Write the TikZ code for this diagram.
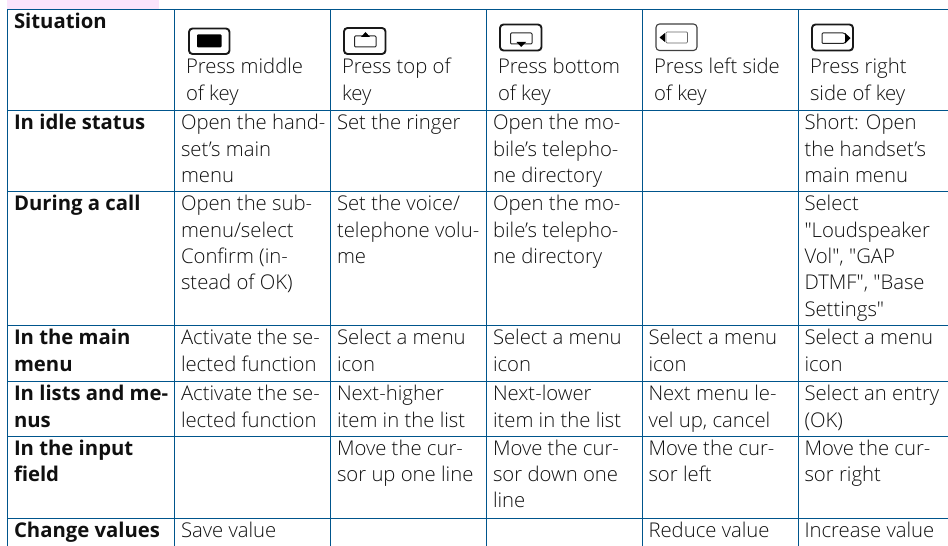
\documentclass[tikz,border=0pt]{standalone}
\usepackage{fontspec}
\setmainfont{Open Sans}[UprightFont={* Light},BoldFont={* Bold},Ligatures=TeXOff]
\definecolor{rule}{HTML}{00558C}
\definecolor{ink}{HTML}{101010}
\definecolor{pinkband}{HTML}{FBE4FB}
\newcommand{\celllines}[1]{\vtop{\baselineskip=26.3bp\lineskiplimit=-100pt\lineskip=0pt\let\\\cr\halign{##\hfil\cr#1\crcr}}}
\tikzset{
  x=1bp,y=-1bp,
  gridline/.style={draw=rule,line width=0.9bp},
  cellbody/.style={anchor=base west,inner sep=0pt,outer sep=0pt,text=ink,font=\fontsize{20.3bp}{26.3bp}\selectfont},
  cellhead/.style={cellbody,font=\fontsize{20.3bp}{26.3bp}\selectfont\bfseries},
  keyframe/.style={draw=black!90,line width=1.9bp,rounded corners=3.5bp,fill=white},
  keyframethin/.style={draw=black!75,line width=1.1bp,rounded corners=3.5bp,fill=white},
  keyinner/.style={draw=black!85,line width=1bp,rounded corners=1bp},
}
\newcommand{\bcell}[4]{\node[cellbody] (#1) at (#2,#3) {\celllines{#4}};}
\newcommand{\hcell}[3]{\node[cellhead] (#1) at (14,#2) {\celllines{#3}};}
\begin{document}
\begin{tikzpicture}
\useasboundingbox (0,0) rectangle (948,546);
\fill[pinkband] (7,0) rectangle (159,8.6);
% grid
\foreach \yy in {9.5,110.5,191,325,381,436,518}{\draw[gridline] (7,\yy) -- (948,\yy);}
\foreach \xx in {7.5,174.5,330.5,486.5,642.5,798.5}{\draw[gridline] (\xx,9.5) -- (\xx,546);}
% first column
\hcell{h0}{29}{Situation}
\hcell{h1}{130}{In idle status}
\hcell{h2}{211}{During a call}
\hcell{h3}{345}{In the main\\menu}
\hcell{h4}{400.7}{In lists and me-\\nus}
\hcell{h5}{455}{In the input\\field}
\hcell{h6}{537.7}{Change values}
% header
\bcell{t1}{186}{74}{Press middle\\of key}
\bcell{t2}{342}{74}{Press top of\\key}
\bcell{t3}{498}{74}{Press bottom\\of key}
\bcell{t4}{654}{74}{Press left side\\of key}
\bcell{t5}{810}{74}{Press right\\side of key}
% idle
\bcell{a1}{181}{130}{Open the hand-\\set’s main\\menu}
\bcell{a2}{337}{130}{Set the ringer}
\bcell{a3}{493}{130}{Open the mo-\\bile’s telepho-\\ne directory}
\bcell{a5}{804.5}{130}{Short: Open\\the handset’s\\main menu}
% call
\bcell{b1}{181}{211}{Open the sub-\\menu/select\\Confirm (in-\\stead of OK)}
\bcell{b2}{337}{211}{Set the voice/\\telephone volu-\\me}
\bcell{b3}{493}{211}{Open the mo-\\bile’s telepho-\\ne directory}
\bcell{b5}{804.5}{211}{Select\\"Loudspeaker\\Vol", "GAP\\DTMF", "Base\\Settings"}
% main menu
\bcell{c1}{181}{345}{Activate the se-\\lected function}
\bcell{c2}{337}{345}{Select a menu\\icon}
\bcell{c3}{493}{345}{Select a menu\\icon}
\bcell{c4}{648.5}{345}{Select a menu\\icon}
\bcell{c5}{804.5}{345}{Select a menu\\icon}
% lists
\bcell{d1}{181}{400.7}{Activate the se-\\lected function}
\bcell{d2}{337}{400.7}{Next-higher\\item in the list}
\bcell{d3}{493}{400.7}{Next-lower\\item in the list}
\bcell{d4}{648.5}{400.7}{Next menu le-\\vel up, cancel}
\bcell{d5}{804.5}{400.7}{Select an entry\\(OK)}
% input
\bcell{e2}{337}{455}{Move the cur-\\sor up one line}
\bcell{e3}{493}{455}{Move the cur-\\sor down one\\line}
\bcell{e4}{648.5}{455}{Move the cur-\\sor left}
\bcell{e5}{804.5}{455}{Move the cur-\\sor right}
% values
\bcell{f1}{181}{537.7}{Save value}
\bcell{f4}{648.5}{537.7}{Reduce value}
\bcell{f5}{804.5}{537.7}{Increase value}
% key icons
\draw[keyframe] (189,28.5) rectangle (229.5,54);
\fill[black,rounded corners=1bp] (197,34.5) rectangle (221.5,47.5);
\draw[keyframe] (344,28) rectangle (385.5,54);
\draw[keyinner] (354.5,36) rectangle (376,47);
\fill[black] (361,37) -- (365.5,32) -- (370,37) -- cycle;
\draw[keyframe] (500,24.5) rectangle (541.5,50.5);
\draw[keyinner] (510.5,33) rectangle (532,44);
\fill[black] (516.5,42) -- (526,42) -- (521.2,47) -- cycle;
\draw[keyframethin] (656,24) rectangle (697,50.5);
\draw[draw=black!60,line width=0.7bp,rounded corners=1bp] (666,32) rectangle (687.5,43);
\fill[black] (665,33) -- (665,42) -- (659.5,37.5) -- cycle;
\draw[keyframe] (812,24.5) rectangle (853,50.5);
\draw[keyinner] (822,33) -- (844,33) -- (849,38) -- (844,43.5) -- (822,43.5) -- cycle;
\fill[black] (845,33) -- (850.5,38) -- (845,43.5) -- cycle;
\end{tikzpicture}
\end{document}
